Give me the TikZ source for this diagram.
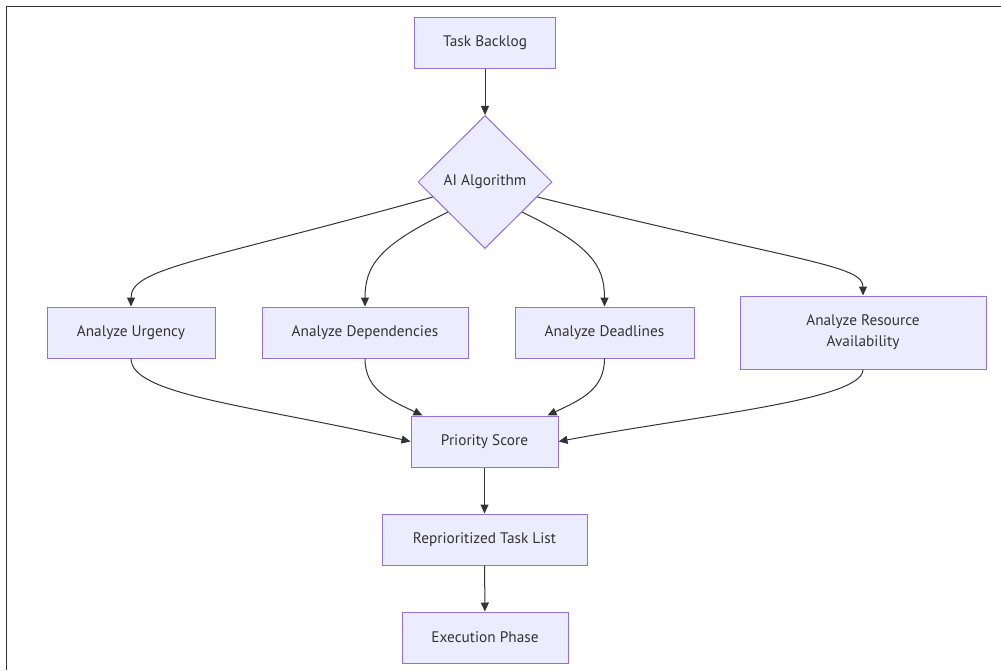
\documentclass[tikz,border=0pt]{standalone}
\usepackage{fontspec}
\setmainfont{PT Sans}
\usetikzlibrary{shapes.geometric,arrows.meta}
\definecolor{nodefill}{HTML}{ECECFF}
\definecolor{nodeline}{HTML}{9370DB}
\definecolor{edgecol}{HTML}{333333}
\definecolor{txt}{HTML}{333333}
\tikzset{
  box/.style={draw=nodeline, fill=nodefill, line width=1pt, text=txt, font=\fontsize{15.3pt}{21pt}\selectfont, inner sep=0pt, minimum height=51pt, align=center},
  decision/.style={diamond, draw=nodeline, fill=nodefill, line width=1pt, text=txt, font=\fontsize{15.3pt}{21pt}\selectfont, inner sep=0pt, minimum width=134pt, minimum height=133pt, aspect=1},
  edge/.style={draw=edgecol, line width=1pt, -{Triangle[length=9pt,width=8pt]}}
}
\begin{document}
\begin{tikzpicture}[x=1pt,y=1pt]
\useasboundingbox (0,0) rectangle (1001,-670);
\draw[edgecol, line width=1.3pt] (6.5,-670) -- (6.5,-6.5) -- (1001,-6.5);
\node[box, minimum width=141pt] (tb) at (485,-42.5) {Task Backlog};
\node[decision] (ai) at (485,-182) {AI Algorithm};
\node[box, minimum width=168pt] (urg) at (131,-332.5) {Analyze Urgency};
\node[box, minimum width=206pt] (dep) at (365,-332.5) {Analyze Dependencies};
\node[box, minimum width=179pt] (dl) at (604.5,-332.5) {Analyze Deadlines};
\node[box, minimum width=246pt, minimum height=73pt] (res) at (863,-332.5) {Analyze Resource\\Availability};
\node[box, minimum width=147pt] (ps) at (484.5,-441.5) {Priority Score};
\node[box, minimum width=205pt] (rtl) at (484.5,-539.5) {Reprioritized Task List};
\node[box, minimum width=166pt] (ex) at (485,-637.5) {Execution Phase};
\draw[edge] (tb) -- (ai);
\draw[edge] (ai.196) .. controls (200,-262) and (131,-268) .. (urg.north);
\draw[edge] (ai.219) .. controls (380,-245) and (365,-265) .. (dep.north);
\draw[edge] (ai.321) .. controls (590,-245) and (604.5,-265) .. (dl.north);
\draw[edge] (ai.344) .. controls (800,-262) and (863,-265) .. (res.north);
\draw[edge] (urg.south) .. controls (131,-395) and (250,-405) .. (ps.west);
\draw[edge] (dep.south) .. controls (365,-390) and (390,-400) .. ([xshift=-62pt]ps.north);
\draw[edge] (dl.south) .. controls (604.5,-390) and (580,-400) .. ([xshift=63pt]ps.north);
\draw[edge] (res.south) .. controls (863,-400) and (700,-415) .. (ps.east);
\draw[edge] (ps) -- (rtl);
\draw[edge] (rtl) -- (ex);
\end{tikzpicture}
\end{document}
